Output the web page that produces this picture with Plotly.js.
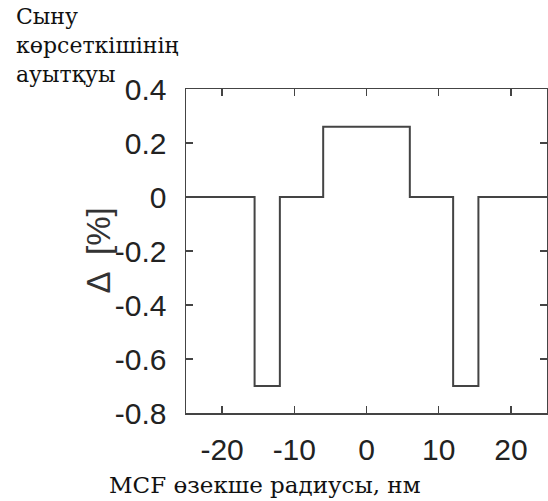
<!DOCTYPE html>
<html>
<head>
<meta charset="utf-8">
<script src="https://cdn.plot.ly/plotly-3.0.1.min.js"></script>
<style>html,body{margin:0;padding:0;background:#fff;}#chart{width:548px;height:501px;}</style>
</head>
<body>
<div id="chart"></div>
<script>
// Step profile of refractive-index deviation
const edgesX = [-25, -15.5, -12, -6, 6, 12, 15.5, 25];
const deltaY = [0, -0.7, 0, 0.26, 0, -0.7, 0, 0];
const xTickVals = [-20, -10, 0, 10, 20];
const xTickText = ['-20', '-10', '0', '10', '20'];
const yTickVals = [-0.8, -0.6, -0.4, -0.2, 0, 0.2, 0.4];
const yTickText = ['-0.8', '-0.6', '-0.4', '-0.2', '0', '0.2', '0.4'];
const yTitle = 'Δ  [%]';
const xTitle = 'MCF өзекше радиусы, нм';
const cornerLines = ['Сыну', 'көрсеткішінің', 'ауытқуы'];

const sansFont = "'Liberation Sans', Arial, sans-serif";
const serifFont = "'DejaVu Serif', serif";

const trace = {
  x: edgesX, y: deltaY, type: 'scatter', mode: 'lines',
  line: {shape: 'hv', color: '#444', width: 2},
  hoverinfo: 'skip'
};

const annotations = [
  {text: yTitle, xref: 'paper', yref: 'paper', x: -0.245, y: 0.5, xanchor: 'center', yanchor: 'middle',
   textangle: -90, showarrow: false, font: {family: sansFont, size: 33, color: '#333'}},
  {text: xTitle, xref: 'paper', yref: 'paper', x: -0.215, y: -0.222, xanchor: 'left', yanchor: 'middle',
   showarrow: false, borderpad: 0, font: {family: serifFont, size: 23, color: '#111'}}
];
const lineY = [1.224, 1.134, 1.045];
cornerLines.forEach((t, i) => {
  annotations.push({text: t, xref: 'paper', yref: 'paper', x: -0.475, y: lineY[i], xanchor: 'left', yanchor: 'middle',
    showarrow: false, borderpad: 0, font: {family: serifFont, size: 22, color: '#111'}});
});

const axisCommon = {
  showline: true, mirror: 'ticks', linecolor: '#444', linewidth: 1.5,
  ticks: 'inside', ticklen: 7, tickwidth: 1.5, tickcolor: '#444',
  showgrid: false, zeroline: false,
  tickfont: {family: sansFont, size: 30, color: '#222'}
};

const layout = {
  width: 548, height: 501,
  margin: {l: 186, r: 1, t: 89, b: 88},
  paper_bgcolor: '#fff', plot_bgcolor: '#fff',
  showlegend: false,
  xaxis: Object.assign({}, axisCommon, {range: [-25, 25], tickmode: 'array', tickvals: xTickVals, ticktext: xTickText, ticklabelstandoff: 9}),
  yaxis: Object.assign({}, axisCommon, {range: [-0.8, 0.4], tickmode: 'array', tickvals: yTickVals, ticktext: yTickText, ticklabelstandoff: 12}),
  annotations: annotations
};

Plotly.newPlot('chart', [trace], layout, {staticPlot: true, displayModeBar: false});
</script>
</body>
</html>
